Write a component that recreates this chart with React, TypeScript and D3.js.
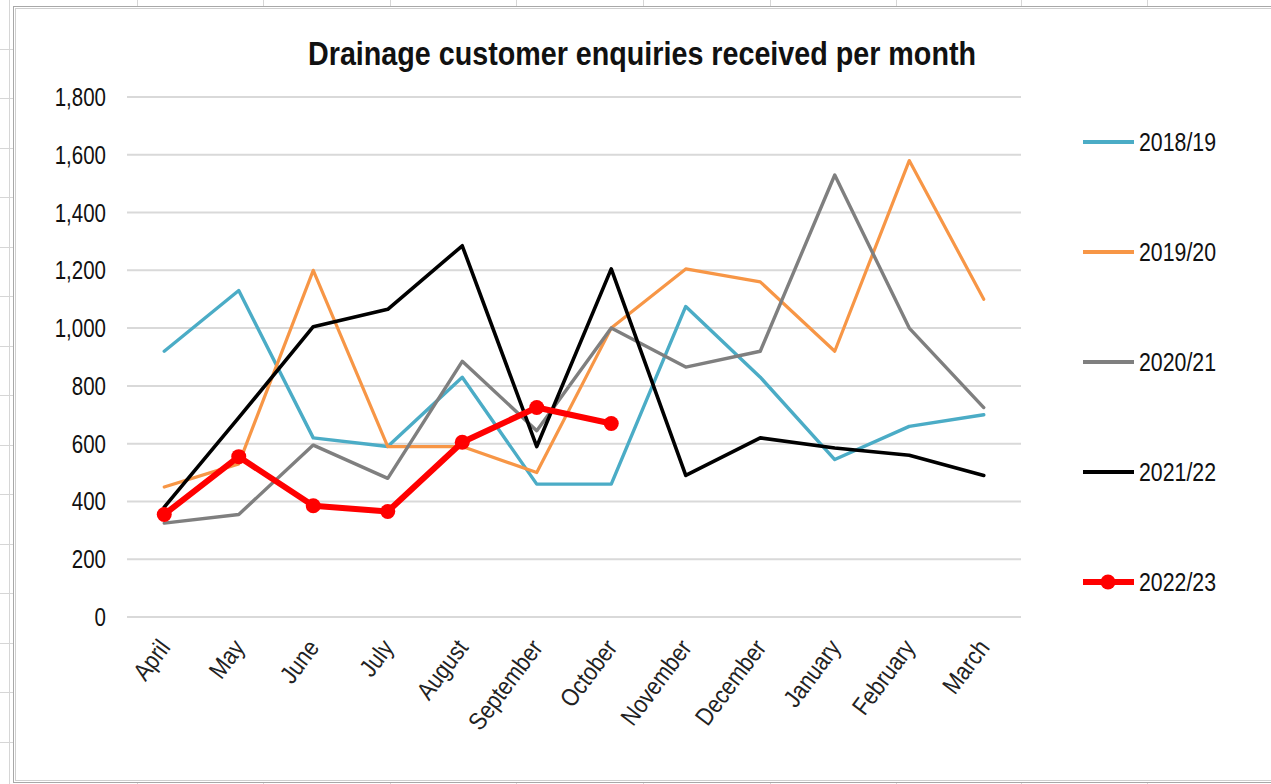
import React from "react";
import * as d3 from "d3";

// months of the financial year (April -> March)
const months = ["April", "May", "June", "July", "August", "September", "October", "November", "December", "January", "February", "March"];
const yTicks = [0, 200, 400, 600, 800, 1000, 1200, 1400, 1600, 1800];

// enquiries per month
const fy1819 = [920, 1130, 620, 590, 830, 460, 460, 1075, 830, 545, 660, 700];
const fy1920 = [450, 530, 1200, 590, 590, 500, 1000, 1205, 1160, 920, 1580, 1100];
const fy2021 = [325, 355, 595, 480, 885, 645, 1000, 865, 920, 1530, 1000, 725];
const fy2122 = [380, 690, 1005, 1065, 1285, 590, 1205, 490, 620, 585, 560, 490];
const fy2223 = [355, 555, 385, 365, 605, 725, 670];

const seriesNames = ["2018/19", "2019/20", "2020/21", "2021/22", "2022/23"];

const W = 1271;
const H = 784;

const App = () => {
    const x = d3.scalePoint<string>().domain(months).range([127, 1021]).padding(0.5);
    const y = d3.scaleLinear().domain([0, 1800]).range([617, 97]);

    const series = [
        { name: seriesNames[0], values: fy1819, color: "#4BACC6", width: 3.4, marker: false },
        { name: seriesNames[1], values: fy1920, color: "#F79646", width: 3.2, marker: false },
        { name: seriesNames[2], values: fy2021, color: "#7F7F7F", width: 3.4, marker: false },
        { name: seriesNames[3], values: fy2122, color: "#000000", width: 3.6, marker: false },
        { name: seriesNames[4], values: fy2223, color: "#FF0000", width: 6, marker: true },
    ];

    const line = d3
        .line<number>()
        .x((d, i) => x(months[i]) as number)
        .y((d) => y(d));

    const fmt = d3.format(",");

    // spreadsheet cells peeking out behind the chart
    const colLines = [9, 137, 263, 390, 516, 643, 770, 896, 1021, 1147];
    const rowLines = [49, 98, 148, 197, 247, 296, 346, 395, 445, 494, 544, 593, 643, 692, 742];

    const legendY = (i: number) => 142 + i * 110;

    return (
        <svg
            width={W}
            height={H}
            style={{ position: "absolute", left: 0, top: 0, background: "#fff" }}
            fontFamily="'Liberation Sans', Arial, sans-serif"
        >
            {/* sheet grid */}
            {colLines.map((c) => (
                <line key={"c" + c} x1={c + 0.5} x2={c + 0.5} y1={0} y2={H} stroke="#d6d6d6" strokeWidth={1} />
            ))}
            {rowLines.map((r) => (
                <line key={"r" + r} x1={0} x2={13} y1={r + 0.5} y2={r + 0.5} stroke="#d6d6d6" strokeWidth={1} />
            ))}

            {/* chart area */}
            <rect x={13.5} y={6.5} width={W} height={776} fill="#fff" stroke="#a8a8a8" strokeWidth={1} />
            <rect x={15.5} y={8.5} width={W} height={772} fill="none" stroke="#cfcfcf" strokeWidth={1} />

            <text
                x={642}
                y={65}
                textAnchor="middle"
                fontWeight="bold"
                fontSize={33}
                textLength={668}
                lengthAdjust="spacingAndGlyphs"
                fill="#111"
            >
                Drainage customer enquiries received per month
            </text>

            {/* gridlines + y labels */}
            {yTicks.map((t) => (
                <g key={t}>
                    <line x1={127} x2={1021} y1={y(t)} y2={y(t)} stroke="#d9d9d9" strokeWidth={2} />
                    <text
                        transform={`translate(106,${y(t) + 9}) scale(0.82,1)`}
                        textAnchor="end"
                        fontSize={25}
                        fill="#111"
                    >
                        {fmt(t)}
                    </text>
                </g>
            ))}

            {/* month labels */}
            {months.map((m) => (
                <text
                    key={m}
                    transform={`translate(${(x(m) as number) + 7},${648}) rotate(-53) scale(0.86,1)`}
                    textAnchor="end"
                    fontSize={25}
                    fill="#222"
                >
                    {m}
                </text>
            ))}

            {/* lines */}
            {series.map((s) => (
                <g key={s.name}>
                    <path
                        d={line(s.values) as string}
                        fill="none"
                        stroke={s.color}
                        strokeWidth={s.width}
                        strokeLinejoin="round"
                        strokeLinecap="round"
                    />
                    {s.marker &&
                        s.values.map((v, i) => (
                            <circle key={i} cx={x(months[i]) as number} cy={y(v)} r={7.5} fill={s.color} />
                        ))}
                </g>
            ))}

            {/* legend */}
            {series.map((s, i) => (
                <g key={"lg" + s.name}>
                    <line
                        x1={1083}
                        x2={1134}
                        y1={legendY(i)}
                        y2={legendY(i)}
                        stroke={s.color}
                        strokeWidth={s.marker ? 6 : 4}
                    />
                    {s.marker && <circle cx={1108} cy={legendY(i)} r={7.5} fill={s.color} />}
                    <text transform={`translate(1139,${legendY(i) + 9}) scale(0.82,1)`} fontSize={26} fill="#111">
                        {s.name}
                    </text>
                </g>
            ))}
        </svg>
    );
};

export default App;
